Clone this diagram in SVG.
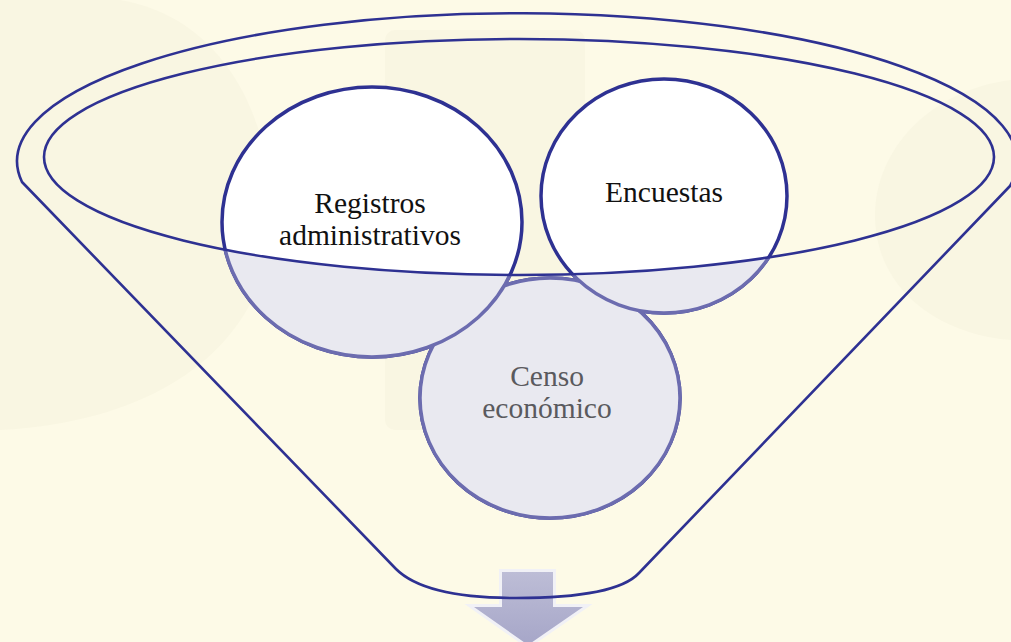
<svg xmlns="http://www.w3.org/2000/svg" width="1011" height="642" viewBox="0 0 1011 642">
  <style>
    .dark { fill: #ffffff; stroke: #2E3192; stroke-width: 3.5; }
    .low { fill: #E9E9F0; stroke: #6C6CAF; stroke-width: 3.5; }
    .line { fill: none; stroke: #2E3192; stroke-width: 2.6; stroke-linejoin: round; }
    .lbl { font-family: "Liberation Serif", "Times New Roman", serif; font-size: 29.5px; text-anchor: middle; fill: #111111; }
    .lbl-g { fill: #5A5A5E; }
    .wm { fill: #F9F6E2; }
  </style>
  <defs>
    <clipPath id="belowRim">
      <path d="M 44,157 A 475 118 0 0 0 994,157 L 1011,157 L 1011,642 L 0,642 L 0,157 Z"/>
    </clipPath>
    <linearGradient id="shaftGrad" x1="0" y1="0" x2="0" y2="1">
      <stop offset="0" stop-color="#BDBDD6"/>
      <stop offset="1" stop-color="#A6A6C8"/>
    </linearGradient>
  </defs>

  <!-- background -->
  <rect x="0" y="0" width="1011" height="642" fill="#FDFAE7"/>
  <g id="watermark">
    <path class="wm" d="M 0,0 L 120,0 C 240,20 280,150 270,240 C 260,330 180,420 0,430 Z"/>
    <rect class="wm" x="385" y="30" width="200" height="400" rx="10"/>
    <path class="wm" d="M 1011,80 C 930,90 875,150 875,215 C 875,290 940,335 1011,340 Z"/>
  </g>

  <!-- output arrow -->
  <g id="arrow">
    <path d="M 502,572 L 553,572 L 553,607 L 583,607 L 528,645 L 474,607 L 502,607 Z" fill="url(#shaftGrad)" stroke="#F1F1F6" stroke-width="6" stroke-linejoin="miter" paint-order="stroke"/>
  </g>

  <!-- funnel outline -->
  <g id="funnel">
    <path class="line" d="M 22,182 A 500 148 0 1 1 1010,186 L 639,573 C 628,585 600,598 516,598 C 432,598 406,579 396,569 Z"/>
  </g>

  <!-- circles -->
  <g id="censo">
    <ellipse class="dark" cx="550" cy="398" rx="130" ry="120"/>
  </g>
  <g id="registros">
    <ellipse class="dark" cx="372" cy="222" rx="150" ry="135"/>
  </g>
  <g id="encuestas">
    <ellipse class="dark" cx="664" cy="196" rx="123" ry="117"/>
  </g>

  <!-- portions inside the funnel body -->
  <g id="funnel-front" clip-path="url(#belowRim)">
    <ellipse class="low" cx="550" cy="398" rx="130" ry="120"/>
    <ellipse class="low" cx="372" cy="222" rx="150" ry="135"/>
    <ellipse class="low" cx="664" cy="196" rx="123" ry="117"/>
  </g>

  <!-- labels -->
  <g id="labels">
    <text class="lbl" x="370" y="213">Registros</text>
    <text class="lbl" x="370" y="245">administrativos</text>
    <text class="lbl" x="664" y="202">Encuestas</text>
    <text class="lbl lbl-g" x="547" y="386">Censo</text>
    <text class="lbl lbl-g" x="547" y="418">económico</text>
  </g>

  <!-- funnel rim -->
  <g id="rim">
    <ellipse class="line" cx="519" cy="157" rx="475" ry="118"/>
  </g>
</svg>
